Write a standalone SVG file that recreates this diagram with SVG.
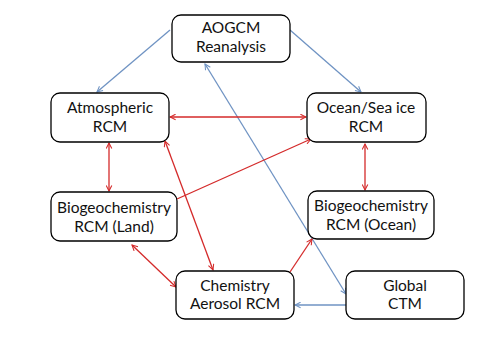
<svg xmlns="http://www.w3.org/2000/svg" width="480" height="360" viewBox="0 0 480 360">
<defs>
<style>
.box{fill:#fff;stroke:#000;stroke-width:1.3}
.t{font-family:Lato,"Liberation Sans",sans-serif;font-size:15.5px;fill:#111;text-anchor:middle}
.b{stroke:#6f93c3;stroke-width:1.3;fill:none}
.r{stroke:#d42a2a;stroke-width:1.3;fill:none}
</style>
<marker id="ab" viewBox="0 0 10 10" refX="9" refY="5" markerWidth="7" markerHeight="7" orient="auto-start-reverse" markerUnits="userSpaceOnUse"><path d="M1,1 L9,5 L1,9" fill="none" stroke="#6f93c3" stroke-width="1.5"/></marker>
<marker id="ar" viewBox="0 0 10 10" refX="9" refY="5" markerWidth="7" markerHeight="7" orient="auto-start-reverse" markerUnits="userSpaceOnUse"><path d="M1,1 L9,5 L1,9" fill="none" stroke="#d42a2a" stroke-width="1.5"/></marker>
</defs>
<rect width="480" height="360" fill="#fff"/>
<g id="connectors">
<line class="b" x1="170" y1="30" x2="97" y2="92" marker-end="url(#ab)"/>
<line class="b" x1="290" y1="30" x2="361" y2="92" marker-end="url(#ab)"/>
<line class="b" x1="205" y1="64" x2="346" y2="294" marker-start="url(#ab)" marker-end="url(#ab)"/>
<line class="b" x1="346" y1="305" x2="295" y2="305" marker-end="url(#ab)"/>
<line class="r" x1="170" y1="117" x2="306" y2="117" marker-start="url(#ar)" marker-end="url(#ar)"/>
<line class="r" x1="109" y1="143" x2="109" y2="191" marker-start="url(#ar)" marker-end="url(#ar)"/>
<line class="r" x1="365" y1="144" x2="365" y2="190" marker-start="url(#ar)" marker-end="url(#ar)"/>
<line class="r" x1="177" y1="199" x2="311" y2="139" marker-end="url(#ar)"/>
<line class="r" x1="165" y1="141" x2="213" y2="270" marker-start="url(#ar)" marker-end="url(#ar)"/>
<line class="r" x1="132" y1="245" x2="176" y2="287" marker-start="url(#ar)" marker-end="url(#ar)"/>
<line class="r" x1="290" y1="272" x2="312" y2="239" marker-end="url(#ar)"/>
</g>
<g id="aogcm"><rect class="box" x="172" y="15" width="118" height="47" rx="9"/><text class="t" x="231" y="33">AOGCM</text><text class="t" x="231" y="52">Reanalysis</text></g>
<g id="atmos"><rect class="box" x="51" y="93" width="118" height="49" rx="9"/><text class="t" x="110" y="113">Atmospheric</text><text class="t" x="110" y="132">RCM</text></g>
<g id="ocean"><rect class="box" x="307" y="93" width="119" height="49" rx="9"/><text class="t" x="366" y="113">Ocean/Sea ice</text><text class="t" x="366" y="132">RCM</text></g>
<g id="bioland"><rect class="box" x="51" y="192" width="126" height="49" rx="9"/><text class="t" x="114" y="213">Biogeochemistry</text><text class="t" x="114" y="232">RCM (Land)</text></g>
<g id="bioocean"><rect class="box" x="308" y="191" width="126" height="48" rx="9"/><text class="t" x="371" y="211">Biogeochemistry</text><text class="t" x="371" y="230">RCM (Ocean)</text></g>
<g id="chem"><rect class="box" x="176" y="271" width="118" height="48" rx="9"/><text class="t" x="235" y="291">Chemistry</text><text class="t" x="235" y="309">Aerosol RCM</text></g>
<g id="ctm"><rect class="box" x="346" y="271" width="118" height="48" rx="9"/><text class="t" x="405" y="291">Global</text><text class="t" x="405" y="309">CTM</text></g>
</svg>
